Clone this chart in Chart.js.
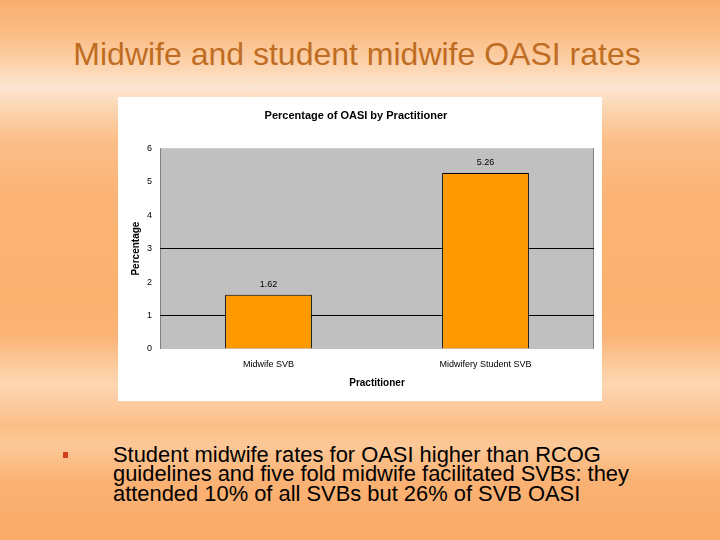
<!DOCTYPE html>
<html>
<head>
<meta charset="utf-8">
<script src="https://cdn.jsdelivr.net/npm/chart.js@4"></script>
<style>
  html, body { margin: 0; padding: 0; }
  body {
    width: 720px; height: 540px; position: relative; overflow: hidden;
    font-family: "Liberation Sans", Arial, sans-serif;
    background: linear-gradient(to bottom,
      #f9ad6e 0px, #fbbd86 35px, #fcd3ad 65px, #fde6d2 88px, #fcd4ae 110px,
      #fbbf8a 140px, #fbb476 190px, #fbb06f 300px, #fbb375 335px,
      #fcc796 360px, #fdd6b2 385px, #fcc89a 410px, #fbbd86 425px,
      #fcc898 445px, #fab274 480px, #f9ab68 540px);
  }
  #title {
    position: absolute; left: 0; width: 714px; top: 36px;
    text-align: center; font-size: 32px; color: #bf6d22; white-space: nowrap;
  }
  #box {
    position: absolute; left: 118px; top: 97px; width: 484px; height: 304px;
    background: #fff;
  }
  #bullet {
    position: absolute; left: 113px; top: 445px; width: 600px;
    font-size: 21.9px; line-height: 19.3px; color: #000; white-space: nowrap;
  }
  #mark {
    position: absolute; left: 63px; top: 452px; width: 5px; height: 6px;
    background: #d2401a;
  }
</style>
</head>
<body>
<div id="title">Midwife and student midwife OASI rates</div>
<div id="box"><canvas id="chart" width="484" height="304"></canvas></div>
<div id="mark"></div>
<div id="bullet">Student midwife rates for OASI higher than RCOG<br>guidelines and five fold midwife facilitated SVBs: they<br>attended 10% of all SVBs but 26% of SVB OASI</div>
<script>
// chart data
const categories = ["Midwife SVB", "Midwifery Student SVB"];
const oasiRates = [1.62, 5.26];
const yTicks = [0, 1, 2, 3, 4, 5, 6];
const gridAt = [1, 3]; // only these lines survive in the picture

// grey plot area with side borders, like the old Excel chart
const plotBackground = {
  id: "plotBackground",
  beforeDraw(chart) {
    const { ctx, chartArea: a } = chart;
    ctx.save();
    ctx.fillStyle = "#c0c0c0";
    ctx.fillRect(a.left, a.top, a.right - a.left, a.bottom - a.top);
    ctx.strokeStyle = "#808080";
    ctx.lineWidth = 1;
    ctx.beginPath();
    ctx.moveTo(a.left + 0.5, a.top);
    ctx.lineTo(a.left + 0.5, a.bottom);
    ctx.moveTo(a.right - 0.5, a.top);
    ctx.lineTo(a.right - 0.5, a.bottom);
    ctx.stroke();
    ctx.restore();
  }
};

// value labels above the bars
const valueLabels = {
  id: "valueLabels",
  afterDatasetsDraw(chart) {
    const { ctx } = chart;
    const meta = chart.getDatasetMeta(0);
    ctx.save();
    ctx.font = "9px 'Liberation Sans', Arial, sans-serif";
    ctx.fillStyle = "#000";
    ctx.textAlign = "center";
    ctx.textBaseline = "bottom";
    meta.data.forEach((bar, i) => {
      ctx.fillText(oasiRates[i].toFixed(2), bar.x, bar.y - 6);
    });
    ctx.restore();
  }
};

const ctx = document.getElementById("chart").getContext("2d");
new Chart(ctx, {
  type: "bar",
  data: {
    labels: categories,
    datasets: [{
      data: oasiRates,
      backgroundColor: "#ff9900",
      borderColor: "#000",
      borderWidth: 1,
      barPercentage: 0.4,
      categoryPercentage: 1.0
    }]
  },
  options: {
    responsive: false,
    animation: false,
    layout: { padding: { left: 0, right: 8, top: 0, bottom: 0 } },
    plugins: {
      legend: { display: false },
      tooltip: { enabled: false },
      title: {
        display: true,
        text: "Percentage of OASI by Practitioner",
        color: "#000",
        font: { family: "'Liberation Sans', Arial, sans-serif", size: 11, weight: "bold" },
        padding: { top: 12, bottom: 26 }
      }
    },
    scales: {
      x: {
        grid: { display: false, drawTicks: false },
        border: { display: false },
        ticks: {
          color: "#000",
          padding: 10,
          maxRotation: 0,
          font: { family: "'Liberation Sans', Arial, sans-serif", size: 9 }
        },
        title: {
          display: true,
          text: "Practitioner",
          color: "#000",
          font: { family: "'Liberation Sans', Arial, sans-serif", size: 10, weight: "bold" },
          padding: { top: 0, bottom: 12 }
        },
        afterFit(scale) { scale.height = 52; }
      },
      y: {
        min: 0,
        max: 6,
        afterBuildTicks(scale) { scale.ticks = yTicks.map(v => ({ value: v })); },
        grid: {
          drawTicks: false,
          color: c => gridAt.includes(c.tick.value) ? "#000" : "rgba(0,0,0,0)",
          lineWidth: 1
        },
        border: { display: false },
        ticks: {
          color: "#000",
          padding: 8,
          font: { family: "'Liberation Sans', Arial, sans-serif", size: 9 }
        },
        title: {
          display: true,
          text: "Percentage",
          color: "#000",
          font: { family: "'Liberation Sans', Arial, sans-serif", size: 10, weight: "bold" },
          padding: { top: 12, bottom: 0 }
        },
        afterFit(scale) { scale.width = 42; }
      }
    }
  },
  plugins: [plotBackground, valueLabels]
});
</script>
</body>
</html>
